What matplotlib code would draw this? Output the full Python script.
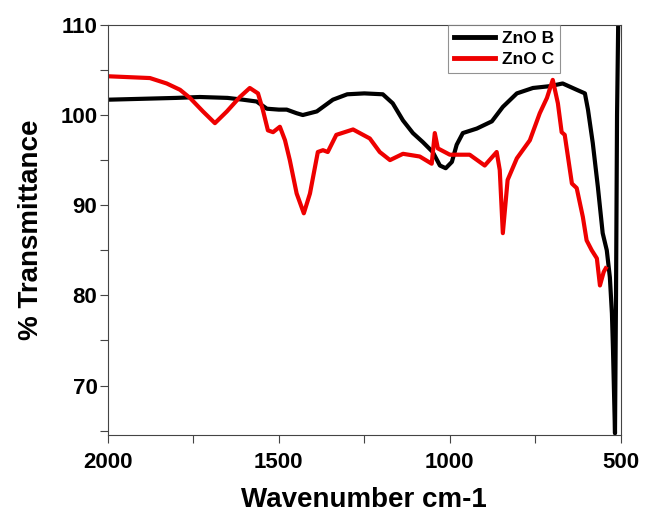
import matplotlib.pyplot as plt
from matplotlib.ticker import MultipleLocator

# FTIR spectra, transmittance (%) against wavenumber (cm-1)
znob_wn = [2000, 1900, 1800, 1731, 1650, 1605, 1565, 1535, 1500, 1477, 1448, 1430,
           1389, 1342, 1300, 1250, 1196, 1167, 1137, 1108, 1079, 1050, 1029, 1012,
           994, 980, 962, 921, 877, 845, 804, 757, 708, 670, 629, 605, 596, 582, 567,
           553, 541, 532, 526, 523, 517, 514, 511, 507]
znob_t = [101.7, 101.8, 101.9, 102.0, 101.9, 101.7, 101.5, 100.7, 100.6, 100.6, 100.2,
          100.0, 100.4, 101.7, 102.3, 102.4, 102.3, 101.3, 99.4, 98.0, 97.0, 95.9, 94.4,
          94.1, 94.8, 96.7, 98.0, 98.5, 99.3, 100.9, 102.4, 103.0, 103.2, 103.5, 102.8,
          102.4, 100.6, 96.9, 92.0, 86.9, 85.0, 82.0, 78.0, 74.2, 64.7, 80.0, 100.0,
          112.0]

znoc_wn = [2000, 1877, 1828, 1789, 1760, 1722, 1687, 1652, 1614, 1585, 1561, 1547,
           1532, 1517, 1497, 1482, 1468, 1448, 1427, 1409, 1386, 1371, 1357, 1332,
           1283, 1234, 1205, 1175, 1137, 1088, 1053, 1044, 1035, 1000, 942, 898, 863,
           854, 845, 831, 804, 766, 737, 716, 699, 684, 673, 664, 643, 629, 611, 600,
           585, 570, 561, 550, 544]
znoc_t = [104.3, 104.1, 103.5, 102.8, 101.9, 100.4, 99.1, 100.4, 102.0, 103.0, 102.4,
          100.6, 98.3, 98.1, 98.7, 97.2, 95.0, 91.3, 89.1, 91.3, 95.9, 96.1, 95.9, 97.8,
          98.4, 97.4, 95.9, 95.0, 95.7, 95.4, 94.6, 98.0, 96.3, 95.6, 95.6, 94.4, 95.9,
          93.9, 86.9, 92.8, 95.2, 97.2, 100.2, 101.9, 103.9, 101.3, 98.1, 97.8, 92.4,
          91.9, 88.7, 86.1, 85.0, 84.1, 81.1, 82.6, 83.0]

plt.rcParams['font.family'] = ['Liberation Sans', 'DejaVu Sans']
plt.rcParams['font.weight'] = 'bold'

fig = plt.figure(figsize=(6.46, 5.18), dpi=100)
ax = fig.add_axes([0.167, 0.160, 0.794, 0.792])

ax.plot(znob_wn, znob_t, color='black', lw=3, label='ZnO B', solid_joinstyle='round')
ax.plot(znoc_wn, znoc_t, color='#ee0000', lw=3, label='ZnO C', solid_joinstyle='round')

ax.set_xlim(2000, 500)
ax.set_ylim(64.5, 110)
ax.xaxis.set_major_locator(MultipleLocator(500))
ax.xaxis.set_minor_locator(MultipleLocator(250))
ax.yaxis.set_major_locator(MultipleLocator(10))
ax.yaxis.set_minor_locator(MultipleLocator(5))
ax.set_yticks([70, 80, 90, 100, 110])

ax.tick_params(axis='both', which='both', direction='out', length=5.5, width=0.8,
               color='#444444', labelsize=16)
ax.tick_params(axis='x', which='major', pad=7)
ax.tick_params(axis='y', which='major', pad=2)
for sp in ax.spines.values():
    sp.set_linewidth(0.8)
    sp.set_color('#444444')

ax.set_xlabel('Wavenumber cm-1', fontsize=20, fontweight='bold', labelpad=10)
ax.set_ylabel('% Transmittance', fontsize=20, fontweight='bold', labelpad=12)

leg = ax.legend(loc='upper right', bbox_to_anchor=(0.881, 1.0), borderaxespad=0,
                fancybox=False, edgecolor='#777777', fontsize=12.5, handlelength=2.4,
                handletextpad=0.35, borderpad=0.35, labelspacing=0.35)
leg.get_frame().set_linewidth(0.8)
for line in leg.get_lines():
    line.set_linewidth(3.5)

fig.savefig('out.png', dpi=100)
